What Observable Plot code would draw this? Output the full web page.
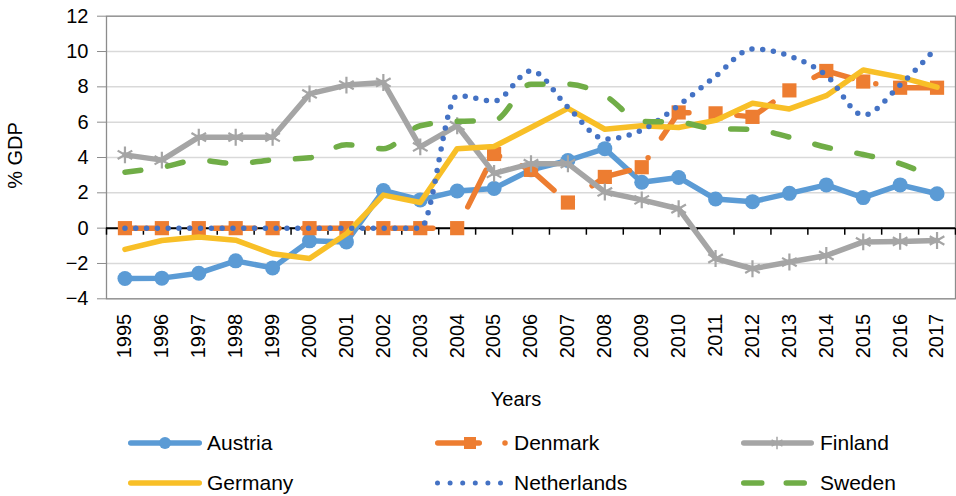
<!DOCTYPE html>
<html><head><meta charset="utf-8">
<script src="https://cdn.jsdelivr.net/npm/d3@7"></script>
<script src="https://cdn.jsdelivr.net/npm/@observablehq/plot@0.6"></script>
<style>
body{margin:0;background:#fff;font-family:"Liberation Sans",Arial,sans-serif;}
#wrap{position:relative;width:956px;height:496px;overflow:hidden;}
#wrap svg.plot{position:absolute;left:0;top:0;}
.lab{position:absolute;font-size:21px;color:#000;line-height:24px;white-space:nowrap;}
.samp{position:absolute;}
</style></head><body><div id="wrap"></div>
<script>
const years = [1995,1996,1997,1998,1999,2000,2001,2002,2003,2004,2005,2006,2007,2008,2009,2010,2011,2012,2013,2014,2015,2016,2017];
const austria = [-2.85,-2.83,-2.55,-1.85,-2.25,-0.72,-0.78,2.13,1.6,2.1,2.25,3.3,3.83,4.5,2.6,2.87,1.65,1.5,1.97,2.45,1.73,2.45,1.95];
const denmark = [0,0,0,0,0,0,0,0,0,0,4.2,3.3,1.45,2.9,3.45,6.55,6.5,6.3,7.8,8.9,8.3,7.95,7.95];
const finland = [4.15,3.85,5.15,5.15,5.15,7.6,8.1,8.25,4.6,5.8,3.1,3.65,3.65,2.05,1.6,1.1,-1.72,-2.3,-1.92,-1.55,-0.78,-0.75,-0.7];
const germany = [-1.2,-0.7,-0.5,-0.68,-1.45,-1.72,-0.32,1.87,1.45,4.5,4.62,5.7,6.78,5.6,5.8,5.7,6.1,7.07,6.75,7.5,8.95,8.55,7.98];
const netherlands = [0,0,0,0,0,0,0,0,0,7.5,7.2,8.9,6.85,5.05,5.55,6.95,8.6,10.15,9.75,8.65,6.4,8.1,10.25];
const sweden = [3.17,3.45,3.85,3.65,3.87,3.98,4.72,4.5,5.8,6.05,6.1,8.15,8.15,7.5,6.05,6.0,5.62,5.6,5.15,4.58,4.17,3.65,2.8];
const yTicks = [-4,-2,0,2,4,6,8,10,12];
const countries = ["Austria","Denmark","Finland","Germany","Netherlands","Sweden"];
const colors = ["#5B9BD5","#ED7D31","#A5A5A5","#F8BF27","#4472C4","#70AD47"];

const table = (vals) => years.map((y,i)=>({year:y, value:vals[i]}));
const bounds = years.map(y=>y-0.5).concat([years[years.length-1]+0.5]);
const fmt = d => d < 0 ? "\u2212" + Math.abs(d) : String(d);

const chart = Plot.plot({
  width: 956, height: 410,
  marginTop: 15.7, marginBottom: 111.7, marginLeft: 106, marginRight: 1,
  style: {fontFamily: '"Liberation Sans", Arial, sans-serif', background: "transparent"},
  x: {type: "linear", domain: [years[0]-0.5, years[years.length-1]+0.5], axis: null},
  y: {domain: [yTicks[0], yTicks[yTicks.length-1]], axis: null},
  marks: [
    Plot.gridY(yTicks, {stroke: "#d9d9d9", strokeOpacity: 1, strokeWidth: 1.5}),
    Plot.frame({stroke: "#8c8c8c", strokeWidth: 1.3}),
    Plot.axisY(yTicks, {tickSize: 9, tickPadding: 9, fontSize: 20, stroke: "#8c8c8c", fill: "#000", tickFormat: fmt, label: null}),
    Plot.ruleY([0], {stroke: "#000", strokeWidth: 2}),
    Plot.ruleX(bounds, {y1: 0, y2: -0.4, stroke: "#000", strokeWidth: 1.5}),
    Plot.axisX(years, {tickSize: 0, tickPadding: 15, tickRotate: -90, fontSize: 20, fill: "#000", tickFormat: d => String(d), label: null}),
    // Austria
    Plot.line(table(austria), {x: "year", y: "value", stroke: colors[0], strokeWidth: 5.5}),
    Plot.dot(table(austria), {x: "year", y: "value", fill: colors[0], r: 7.5, symbol: "circle"}),
    // Denmark
    Plot.line(table(denmark), {x: "year", y: "value", stroke: colors[1], strokeWidth: 5.5, strokeDasharray: "41 24 0 24", strokeLinecap: "round"}),
    Plot.dot(table(denmark), {x: "year", y: "value", fill: colors[1], r: 8, symbol: "square"}),
    // Finland
    Plot.line(table(finland), {x: "year", y: "value", stroke: colors[2], strokeWidth: 5.5}),
    Plot.dot(table(finland), {x: "year", y: "value", stroke: colors[2], fill: "none", r: 8, strokeWidth: 2.2, symbol: "asterisk"}),
    // Germany
    Plot.line(table(germany), {x: "year", y: "value", stroke: colors[3], strokeWidth: 5.5}),
    // Netherlands
    Plot.line(table(netherlands), {x: "year", y: "value", stroke: colors[4], strokeWidth: 5.5, strokeDasharray: "0 10.8", strokeLinecap: "round", curve: "monotone-x"}),
    // Sweden
    Plot.line(table(sweden), {x: "year", y: "value", stroke: colors[5], strokeWidth: 5.5, strokeDasharray: "16 27", strokeLinecap: "round", curve: "monotone-x"}),
    Plot.text(["Years"], {frameAnchor: "bottom", dx: -15, dy: 101, lineAnchor: "middle", fontSize: 20, fill: "#000"}),
    Plot.text(["% GDP"], {frameAnchor: "left", dx: -91, dy: -2, rotate: -90, textAnchor: "middle", lineAnchor: "middle", fontSize: 20, fill: "#000"})
  ]
});
chart.classList.add("plot");
const wrap = document.getElementById("wrap");
wrap.appendChild(chart);

// Legend
const colX = [128, 435, 741];
const rowY = [442.7, 482.7];
const NS = "http://www.w3.org/2000/svg";
function el(tag, attrs, parent){const e=document.createElementNS(NS,tag);for(const k in attrs)e.setAttribute(k,attrs[k]);parent.appendChild(e);return e;}
countries.forEach((name, i) => {
  const col = i % 3, row = Math.floor(i / 3);
  const x0 = colX[col], yc = rowY[row];
  const svg = document.createElementNS(NS, "svg");
  svg.setAttribute("width", 80); svg.setAttribute("height", 24);
  svg.setAttribute("class", "samp");
  svg.style.left = x0 + "px"; svg.style.top = (yc - 12) + "px";
  const c = colors[i];
  const base = {stroke: c, "stroke-width": 5.5, "stroke-linecap": "round", fill: "none"};
  if (name === "Austria") {
    el("line", {...base, x1: 2.75, y1: 12, x2: 71.25, y2: 12}, svg);
    el("circle", {cx: 37, cy: 12, r: 6, fill: c}, svg);
  } else if (name === "Denmark") {
    el("line", {...base, x1: 2.75, y1: 12, x2: 44.25, y2: 12}, svg);
    el("rect", {x: 29, y: 6, width: 12, height: 12, fill: c}, svg);
    el("circle", {cx: 70, cy: 12, r: 2.75, fill: c}, svg);
  } else if (name === "Finland") {
    el("line", {...base, x1: 2.75, y1: 12, x2: 70.25, y2: 12}, svg);
    el("path", {d: d3.symbol(d3.symbolAsterisk, 110)(), transform: "translate(36,12)", stroke: c, "stroke-width": 1.5, fill: "none"}, svg);
  } else if (name === "Germany") {
    el("line", {...base, x1: 2.75, y1: 12, x2: 71.25, y2: 12}, svg);
  } else if (name === "Netherlands") {
    el("line", {...base, "stroke-width": 5, x1: 2.5, y1: 12, x2: 66, y2: 12, "stroke-dasharray": "0 12.6"}, svg);
  } else {
    el("line", {...base, x1: 2.75, y1: 12, x2: 66, y2: 12, "stroke-dasharray": "18 24.5"}, svg);
  }
  wrap.appendChild(svg);
  const lab = document.createElement("div");
  lab.className = "lab";
  lab.textContent = name;
  lab.style.left = (x0 + 79) + "px";
  lab.style.top = (yc - 12) + "px";
  wrap.appendChild(lab);
});
</script>
</body></html>
